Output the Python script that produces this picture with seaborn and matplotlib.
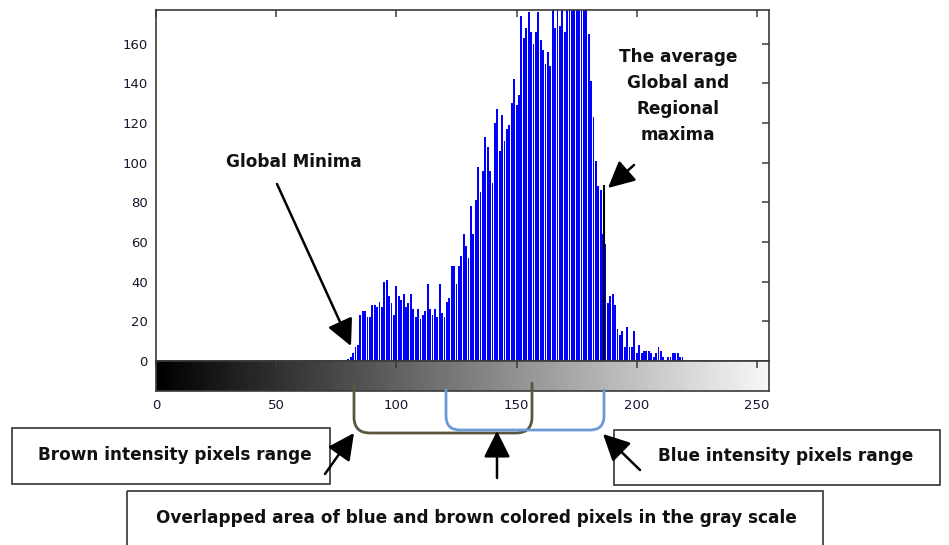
import numpy as np
import pandas as pd
import matplotlib
matplotlib.use("Agg")
import matplotlib.pyplot as plt
import seaborn as sns
from matplotlib.path import Path
from matplotlib.patches import PathPatch, Rectangle

# ---------------- data ----------------
gray_levels = np.arange(80, 220)
pixel_counts = [
    1, 2, 4, 7, 8, 23, 25, 25, 22, 22,          # 80-89
    28, 28, 27, 30, 27, 40, 41, 33, 29, 23,     # 90-99
    38, 33, 31, 34, 27, 29, 34, 26, 22, 26,     # 100-109
    21, 23, 25, 39, 26, 23, 26, 22, 39, 24,     # 110-119
    22, 30, 32, 48, 48, 39, 48, 53, 64, 58,     # 120-129
    52, 78, 64, 81, 98, 85, 96, 113, 108, 96,   # 130-139
    90, 120, 127, 106, 124, 111, 117, 119, 130, 142,  # 140-149
    129, 134, 174, 163, 168, 176, 166, 160, 166, 176,  # 150-159
    162, 157, 150, 156, 149, 186, 168, 192, 169, 188,  # 160-169
    166, 195, 190, 201, 193, 198, 187, 194, 185, 181,  # 170-179
    165, 141, 123, 101, 88, 86, 64, 59, 29, 33,  # 180-189
    34, 28, 16, 13, 15, 7, 17, 7, 7, 15,          # 190-199
    4, 8, 4, 5, 5, 5, 4, 2, 4, 7,                 # 200-209
    5, 2, 0, 2, 2, 4, 4, 4, 2, 2,                 # 210-219
]
marker_level = 186.4   # black line: average global and regional maxima
marker_count = 89
x_ticks = [0, 50, 100, 150, 200, 250]
y_ticks = [0, 20, 40, 60, 80, 100, 120, 140, 160]

label_minima = "Global Minima"
label_maxima = "The average\nGlobal and\nRegional\nmaxima"
label_brown = "Brown intensity pixels range"
label_blue = "Blue intensity pixels range"
label_overlap = "Overlapped area of blue and brown colored pixels in the gray scale"

# ---------------- figure ----------------
W, H = 949, 545
sns.set_style("white")
plt.rcParams['font.family'] = ['DejaVu Sans']

fig = plt.figure(figsize=(W / 100, H / 100), dpi=100)
fig.patch.set_facecolor("white")


def fx(x):
    return x / W


def fy(y):
    return 1 - y / H


AX_L, AX_R, AX_T, AX_B = 156, 769, 10, 361
CB_B = 391
spine_col = "#3a3a3a"
tick_col = "#15152e"

ax = fig.add_axes([fx(AX_L), fy(AX_B), (AX_R - AX_L) / W, (AX_B - AX_T) / H])
df = pd.DataFrame({"level": gray_levels, "count": pixel_counts})
sns.histplot(data=df, x="level", weights="count", discrete=True, shrink=0.76,
             color="#0000ff", alpha=1.0, edgecolor="none", linewidth=0, ax=ax)
ax.vlines(marker_level, 0, marker_count, color="black", lw=1.5, zorder=5)
ax.set_xlim(0, 255)
ax.set_ylim(0, 177)
ax.set_xlabel("")
ax.set_ylabel("")
ax.set_xticks(x_ticks)
ax.set_xticklabels([])
ax.set_yticks(y_ticks)
ax.tick_params(axis="both", direction="in", length=5, width=1.1, color=spine_col,
               top=True, right=True, labelsize=9.5, labelcolor=tick_col, pad=6)
for s in ax.spines.values():
    s.set_visible(True)
    s.set_color(spine_col)
    s.set_linewidth(1.2)

# gray-scale bar below the histogram
cax = fig.add_axes([fx(AX_L), fy(CB_B), (AX_R - AX_L) / W, (CB_B - AX_B) / H])
gradient = np.linspace(0, 1, 256)[None, :]
cax.imshow(gradient, extent=[0, 255, 0, 1], aspect="auto", cmap="gray", vmin=0, vmax=1.03)
cax.set_xlim(0, 255)
cax.set_ylim(0, 1)
cax.set_yticks([])
cax.set_xticks(x_ticks)
cax.tick_params(axis="x", direction="in", length=5, width=1.1, color=spine_col,
                top=True, labelsize=9.5, labelcolor=tick_col, pad=6)
for s in cax.spines.values():
    s.set_color(spine_col)
    s.set_linewidth(1.2)

# ---------------- overlay for annotations (pixel coordinates) ----------------
ov = fig.add_axes([0, 0, 1, 1], zorder=10)
ov.set_xlim(0, W)
ov.set_ylim(H, 0)
ov.axis("off")

txt_kw = dict(fontweight="bold", color="#111111", family=["DejaVu Sans"])
arrow_kw = dict(arrowstyle="-|>,head_length=0.9,head_width=0.45", lw=1.8,
                color="black", shrinkA=0, shrinkB=0, mutation_scale=18)

ov.text(294, 162, label_minima, ha="center", va="center", fontsize=12.2, **txt_kw)
ov.annotate("", xy=(351, 346), xytext=(277, 184), arrowprops=arrow_kw)

ov.text(678, 96, label_maxima, ha="center", va="center", fontsize=12.2,
        linespacing=1.55, **txt_kw)
ov.annotate("", xy=(608, 188), xytext=(634, 165), arrowprops=arrow_kw)


def bracket(x0, x1, ytop, ybot, r, color):
    verts = [(x0, ytop), (x0, ybot - r), (x0, ybot), (x0 + r, ybot),
             (x1 - r, ybot), (x1, ybot), (x1, ybot - r), (x1, ytop)]
    codes = [Path.MOVETO, Path.LINETO, Path.CURVE3, Path.CURVE3,
             Path.LINETO, Path.CURVE3, Path.CURVE3, Path.LINETO]
    ov.add_patch(PathPatch(Path(verts, codes), fill=False, edgecolor=color,
                           lw=2.0, capstyle="round", joinstyle="round"))


bracket(354, 532, 383, 433, 16, "#5a563f")
bracket(446, 604, 390, 430, 14, "#6a9ad8")

# boxes
box_kw = dict(fill=False, edgecolor="#333333", lw=1.2)
ov.add_patch(Rectangle((12, 428), 318, 56, **box_kw))
ov.add_patch(Rectangle((614, 430), 326, 55, **box_kw))
ov.add_patch(Rectangle((127, 491), 696, 60, **box_kw))

ov.text(175, 455, label_brown, ha="center", va="center", fontsize=12.2, **txt_kw)
ov.text(786, 456, label_blue, ha="center", va="center", fontsize=12.2, **txt_kw)
ov.text(476, 518, label_overlap, ha="center", va="center", fontsize=12.2, **txt_kw)

ov.annotate("", xy=(354, 433), xytext=(325, 474), arrowprops=arrow_kw)
ov.annotate("", xy=(603, 434), xytext=(640, 470), arrowprops=arrow_kw)
ov.annotate("", xy=(497, 431), xytext=(497, 478), arrowprops=arrow_kw)

fig.savefig("out.png", dpi=100, facecolor="white")
